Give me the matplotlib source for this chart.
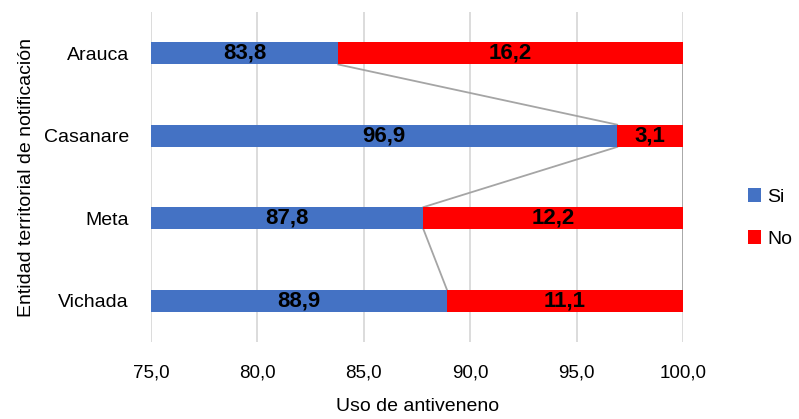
import numpy as np
import matplotlib.pyplot as plt
from matplotlib import font_manager

entidades = ['Arauca', 'Casanare', 'Meta', 'Vichada']
si = [83.8, 96.9, 87.8, 88.9]
no = [16.2, 3.1, 12.2, 11.1]

xmin, xmax = 75.0, 100.0
azul = '#4472C4'
rojo = '#FF0000'

names = {f.name for f in font_manager.fontManager.ttflist}
fuente = 'Liberation Sans Narrow' if 'Liberation Sans Narrow' in names else 'Liberation Sans'
plt.rcParams['font.family'] = [fuente, 'DejaVu Sans']


def main():
    fig = plt.figure(figsize=(7.99, 4.19), dpi=100)
    ax = fig.add_axes([0.189, 0.184, 0.666, 0.787])

    y = np.arange(len(entidades))
    h = 0.27
    b1 = ax.barh(y, si, height=h, color=azul, label='Si', zorder=3)
    b2 = ax.barh(y, no, left=si, height=h, color=rojo, label='No', zorder=3)

    # lineas de serie entre barras consecutivas
    for i in range(len(y) - 1):
        ax.plot([si[i], si[i + 1]], [y[i] + h / 2, y[i + 1] - h / 2],
                color='#A5A5A5', lw=1.3, zorder=2)
        tot0 = si[i] + no[i]
        tot1 = si[i + 1] + no[i + 1]
        ax.plot([tot0, tot1], [y[i] + h / 2, y[i + 1] - h / 2],
                color='#A5A5A5', lw=1.3, zorder=2)

    # etiquetas centradas en la parte visible de cada segmento
    for i in range(len(y)):
        x0 = max(xmin, 0)
        ax.text((x0 + si[i]) / 2, y[i], f'{si[i]:.1f}'.replace('.', ','),
                ha='center', va='center', fontsize=16, fontweight='bold',
                color='black', zorder=4)
        ax.text((si[i] + si[i] + no[i]) / 2, y[i], f'{no[i]:.1f}'.replace('.', ','),
                ha='center', va='center', fontsize=16, fontweight='bold',
                color='black', zorder=4)

    ax.set_xlim(xmin, xmax)
    ax.set_ylim(len(y) - 0.5, -0.5)
    ax.set_yticks(y)
    ax.set_yticklabels(entidades, fontsize=14)
    ticks = np.arange(75, 100.1, 5)
    ax.set_xticks(ticks)
    ax.set_xticklabels([f'{t:.1f}'.replace('.', ',') for t in ticks], fontsize=13.5)
    ax.tick_params(length=0)
    ax.tick_params(axis='x', pad=16)
    ax.tick_params(axis='y', pad=16)
    ax.grid(axis='x', color='#D9D9D9', lw=1.3, zorder=0)
    for s in ax.spines.values():
        s.set_visible(False)

    ax.set_xlabel('Uso de antiveneno', fontsize=14, labelpad=12)
    ax.set_ylabel('Entidad territorial de notificación', fontsize=14, labelpad=6)

    fig.legend(handles=[b1, b2], loc='center left', bbox_to_anchor=(0.914, 0.48),
               frameon=False, fontsize=14, handlelength=0.7, handleheight=0.7,
               labelspacing=1.25, handletextpad=0.3)

    fig.savefig('out.png', dpi=100)


if __name__ == '__main__':
    main()
